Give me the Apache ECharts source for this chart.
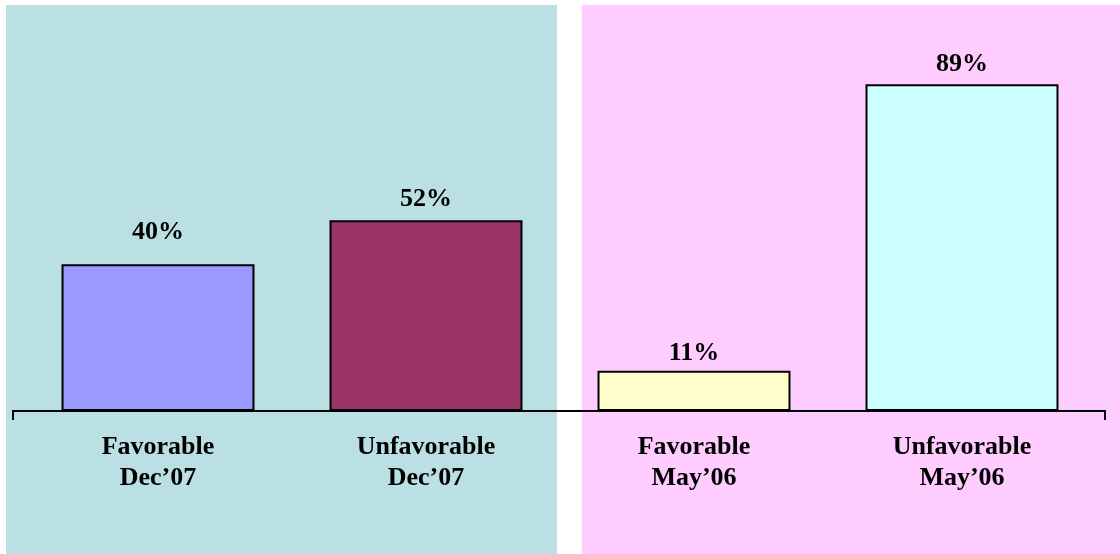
<!DOCTYPE html>
<html>
<head>
<meta charset="utf-8">
<script src="https://cdn.jsdelivr.net/npm/echarts@6/dist/echarts.min.js"></script>
<style>
  html, body { margin: 0; padding: 0; background: #fff; }
  #chart { width: 1120px; height: 554px; }
</style>
</head>
<body>
<div id="chart"></div>
<script>
(function () {

    // data
    var categories = ['Favorable\nDec\u201907', 'Unfavorable\nDec\u201907', 'Favorable\nMay\u201906', 'Unfavorable\nMay\u201906'];
    var values = [40, 52, 11, 89];

    // look
    var barColors = ['#9999FF', '#993366', '#FFFFCC', '#CCFFFF'];
    var labelGaps = [19, 8, 4, 7];
    var font = '"Liberation Serif", "Times New Roman", serif';

    var chart = echarts.init(document.getElementById('chart'), null, {renderer: 'canvas'});

    var barData = values.map(function (v, i) {
        return {
            value: v,
            itemStyle: {color: barColors[i]},
            label: {distance: labelGaps[i]}
        };
    });

    var option = {
        animation: false,
        backgroundColor: '#ffffff',
        grid: {left: 24, right: 24, top: 44, bottom: 143, containLabel: false},
        xAxis: {
            type: 'category',
            data: categories,
            axisLine: {show: false},
            axisTick: {show: false},
            axisLabel: {
                margin: 21,
                color: '#000',
                fontFamily: font,
                fontWeight: 'bold',
                fontSize: 26,
                lineHeight: 31
            }
        },
        yAxis: {
            type: 'value',
            min: 0,
            max: 100,
            show: false,
            splitLine: {show: false}
        },
        series: [{
            type: 'bar',
            data: barData,
            barCategoryGap: '28%',
            itemStyle: {borderColor: '#000', borderWidth: 2},
            label: {
                show: true,
                position: 'top',
                formatter: '{c}%',
                color: '#000',
                fontFamily: font,
                fontWeight: 'bold',
                fontSize: 26
            },
            z: 3
        }]
    };

    chart.setOption(option);

    // background panels and the baseline, placed from the axis scale
    var y0 = Math.round(chart.convertToPixel({yAxisIndex: 0}, 0));
    chart.setOption({
        graphic: [
            {type: 'rect', z: -10, silent: true, shape: {x: 6, y: 5, width: 551, height: 549}, style: {fill: '#BAE0E3'}},
            {type: 'rect', z: -10, silent: true, shape: {x: 582, y: 5, width: 538, height: 549}, style: {fill: '#FFCCFF'}},
            {type: 'polyline', z: 10, silent: true,
                shape: {points: [[13, y0 + 9], [13, y0], [1105, y0], [1105, y0 + 9]]},
                style: {stroke: '#000', lineWidth: 2, fill: null}}
        ]
    });

    window.addEventListener('resize', function () {
        chart.resize();
    });

})();
</script>
</body>
</html>
